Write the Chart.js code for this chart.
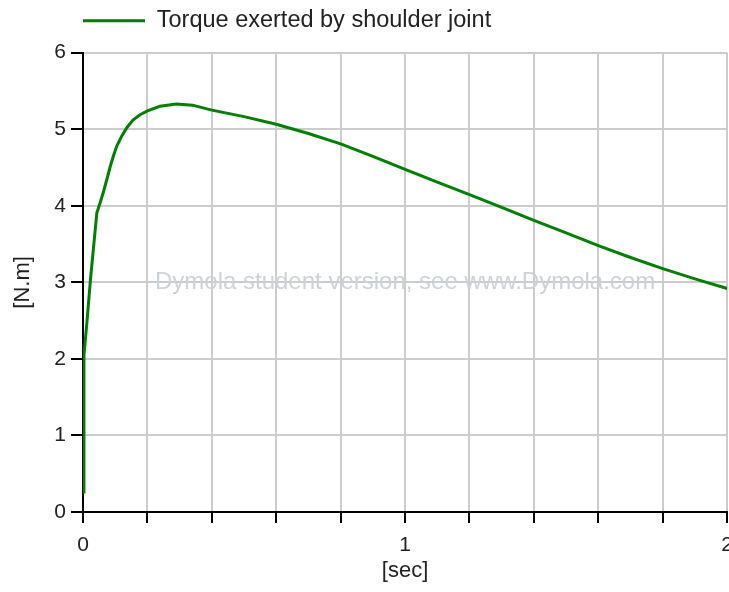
<!DOCTYPE html>
<html>
<head>
<meta charset="utf-8">
<script src="https://cdn.jsdelivr.net/npm/chart.js@4/dist/chart.umd.min.js"></script>
<style>
  html, body { margin: 0; padding: 0; background: #fff; overflow: hidden; }
  #wrap { width: 743px; height: 592px; }
</style>
</head>
<body>
<div id="wrap"><canvas id="myChart" width="743" height="592"></canvas></div>
<script>
// time [sec] and torque [N.m]
const timeSec = [0, 0.003, 0.012, 0.023, 0.033, 0.043, 0.054, 0.064, 0.075, 0.085, 0.095, 0.105,
  0.12, 0.136, 0.155, 0.177, 0.2, 0.239, 0.29, 0.34, 0.4, 0.5, 0.6, 0.7, 0.8, 0.9, 1.0,
  1.1, 1.2, 1.3, 1.4, 1.5, 1.6, 1.7, 1.8, 1.9, 2.0];
const torque = [0.26, 2.05, 2.47, 3.03, 3.47, 3.91, 4.05, 4.19, 4.36, 4.52, 4.66, 4.78,
  4.91, 5.02, 5.12, 5.19, 5.24, 5.30, 5.33, 5.315, 5.25, 5.165, 5.065, 4.945, 4.81, 4.645, 4.475,
  4.31, 4.145, 3.98, 3.81, 3.645, 3.48, 3.325, 3.18, 3.045, 2.92];
const seriesName = "Torque exerted by shoulder joint";
const xLabels = [0, 1, 2];
const watermark = "Dymola student version, see www.Dymola.com";

const green = "#008000";
const gridGray = "#cccccc";
const font = "'Liberation Sans', Arial, sans-serif";

const points = timeSec.map((t, i) => ({ x: t, y: torque[i] }));

// light gray text in the middle of the plot
const watermarkPlugin = {
  id: "watermark",
  beforeDatasetsDraw(chart) {
    const a = chart.chartArea;
    const c = chart.ctx;
    c.save();
    c.font = "24px " + font;
    c.fillStyle = "#cdd2d8";
    c.textAlign = "center";
    c.textBaseline = "middle";
    c.fillText(watermark, (a.left + a.right) / 2, chart.scales.y.getPixelForValue(3));
    c.restore();
  }
};

new Chart(document.getElementById("myChart"), {
  type: "line",
  data: {
    datasets: [{
      label: seriesName,
      data: points,
      borderColor: green,
      backgroundColor: green,
      borderWidth: 3,
      pointRadius: 0,
      tension: 0,
      fill: false
    }]
  },
  options: {
    responsive: false,
    animation: false,
    // the canvas is a bit wider than the window so the last "2" gets cut off
    layout: { padding: { top: 9, right: 0, left: 0, bottom: 0 } },
    plugins: {
      legend: {
        position: "top",
        align: "start",
        fullSize: false,
        labels: {
          boxWidth: 62,
          boxHeight: 3,
          padding: 0,
          color: "#222",
          font: { family: font, size: 23.5 },
          generateLabels: () => [{
            text: seriesName, fillStyle: green, strokeStyle: green,
            lineWidth: 0, datasetIndex: 0, fontColor: "#222"
          }]
        }
      },
      // empty spacer between legend and plot
      subtitle: {
        display: true,
        text: "",
        weight: 500,
        font: { size: 1 },
        padding: { top: 0, bottom: 9 }
      },
      tooltip: { enabled: false }
    },
    scales: {
      x: {
        type: "linear",
        min: 0,
        max: 2,
        afterFit(axis) { axis.height = 80; },
        border: { color: "#000", width: 2 },
        grid: { color: gridGray, lineWidth: 2, tickColor: "#000", tickLength: 11 },
        ticks: {
          stepSize: 0.2,
          autoSkip: false,
          maxRotation: 0,
          padding: 10,
          color: "#222",
          font: { family: font, size: 21 },
          callback: (v) => {
            const r = Math.round(v);
            return Math.abs(v - r) < 1e-6 && xLabels.includes(r) ? String(r) : "";
          }
        },
        title: {
          display: true,
          text: "[sec]",
          color: "#222",
          font: { family: font, size: 22 },
          padding: { top: 0, bottom: 8 }
        }
      },
      y: {
        min: 0,
        max: 6,
        afterFit(axis) { axis.width = 83; },
        border: { color: "#000", width: 2 },
        grid: { color: gridGray, lineWidth: 2, tickColor: "#000", tickLength: 12 },
        ticks: {
          stepSize: 1,
          padding: 5,
          color: "#222",
          font: { family: font, size: 21 }
        },
        title: {
          display: true,
          text: "[N.m]",
          color: "#222",
          font: { family: font, size: 22 },
          padding: { top: 10, bottom: 0 }
        }
      }
    }
  },
  plugins: [watermarkPlugin]
});
</script>
</body>
</html>
